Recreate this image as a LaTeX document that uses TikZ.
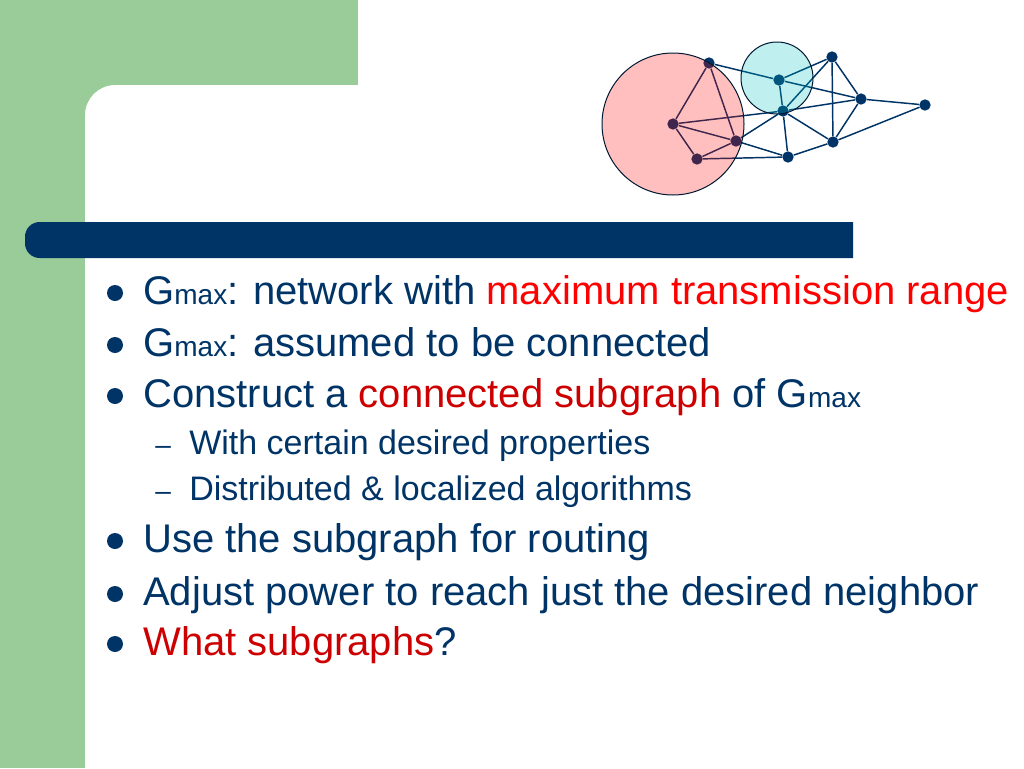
\documentclass[tikz,border=0pt]{standalone}
\usepackage{fontspec}
\setmainfont{Liberation Sans}
\definecolor{navy}{HTML}{003366}
\definecolor{sage}{HTML}{99CC99}
\definecolor{hotred}{HTML}{FF0000}
\definecolor{darkred}{HTML}{CC0000}
\definecolor{aqua}{HTML}{00BEBE}
\newcommand{\gmax}{G{\fontsize{21}{25}\selectfont max}}
\tikzset{
  item/.style={anchor=base west, inner sep=0, text=navy, font=\fontsize{30}{36}\selectfont},
  subitem/.style={item, font=\fontsize{25.5}{30}\selectfont},
  dot/.style={circle, fill=navy, inner sep=0, minimum size=12pt},
  vertex/.style={circle, fill=navy, inner sep=0, minimum size=8.5pt},
  reachdisk/.style={draw=navy!50!black, line width=0.75pt, fill opacity=0.25},
}
\begin{document}
\begin{tikzpicture}[x=0.75pt, y=-0.75pt]
      \useasboundingbox (0,0) rectangle (1024,768);
      \fill[sage] (0,0) rectangle (358,85);
      \fill[sage] (0,0) rectangle (85,768);
      \fill[sage] (85,85) -- (115,85) arc[start angle=270, end angle=180, radius=30] -- cycle;
      \fill[navy, rounded corners=11pt] (853,222) -- (25,222) -- (25,258) -- (853,258);
      \draw
        (709,63) node[vertex] (0){}
        (779,80) node[vertex] (1){}
        (832,57) node[vertex] (2){}
        (861,99) node[vertex] (3){}
        (925,105) node[vertex] (4){}
        (783,111) node[vertex] (5){}
        (673,124) node[vertex] (6){}
        (736,141) node[vertex] (7){}
        (833,142) node[vertex] (8){}
        (697,159) node[vertex] (9){}
        (788,157) node[vertex] (10){};
      \begin{scope}[navy, line width=1.1pt]
        \draw (0) to (1);
        \draw (0) to (6);
        \draw (0) to (7);
        \draw (1) to (2);
        \draw (1) to (3);
        \draw (1) to (5);
        \draw (2) to (3);
        \draw (2) to (5);
        \draw (2) to (8);
        \draw (3) to (4);
        \draw (3) to (5);
        \draw (3) to (8);
        \draw (4) to (8);
        \draw (5) to (6);
        \draw (5) to (7);
        \draw (5) to (8);
        \draw (5) to (10);
        \draw (6) to (7);
        \draw (6) to (9);
        \draw (7) to (9);
        \draw (7) to (10);
        \draw (8) to (10);
        \draw (9) to (10);
      \end{scope}
      \draw[reachdisk, fill=red] (6) circle[radius=71];
      \draw[reachdisk, fill=aqua] (777,78) circle[radius=36];
      \foreach \y/\n in {304/1,356/2,407/3,552/4,605/5,655/6}
        \node[dot] (b\n) at (115,\y-11) {};
      \node[item] (l1) at (143,304) {\gmax: network with \textcolor{hotred}{maximum transmission range}};
      \node[item] (l2) at (143,356) {\gmax: assumed to be connected};
      \node[item] (l3) at (143,407) {Construct a \textcolor{darkred}{connected subgraph} of \gmax};
      \node[subitem, font=\fontsize{21}{24}\selectfont] (d1) at (155,454) {–};
      \node[subitem, font=\fontsize{21}{24}\selectfont] (d2) at (155,500) {–};
      \node[subitem] (s1) at (189,454) {With certain desired properties};
      \node[subitem] (s2) at (189,500) {Distributed \& localized algorithms};
      \node[item] (l4) at (143,552) {Use the subgraph for routing};
      \node[item] (l5) at (143,605) {Adjust power to reach just the desired neighbor};
      \node[item] (l6) at (143,655) {\textcolor{darkred}{What subgraphs}?};
    \end{tikzpicture}
\end{document}
